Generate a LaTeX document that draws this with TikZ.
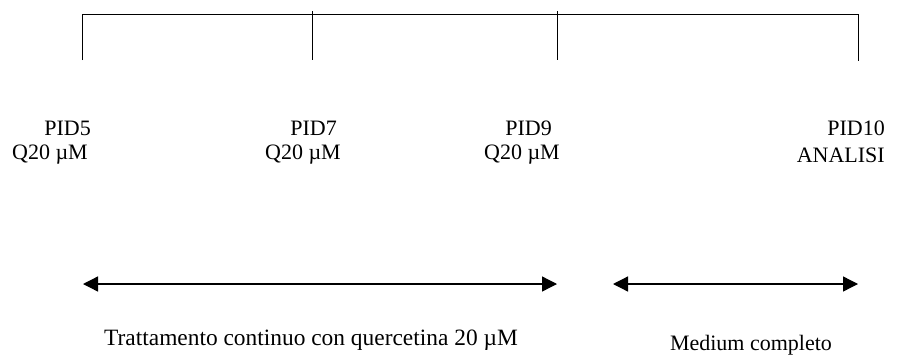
\documentclass[tikz,border=0pt]{standalone}
\usepackage{fontspec}
\setmainfont{Liberation Serif}
\usetikzlibrary{arrows.meta}

\begin{document}
\begin{tikzpicture}[
x=1pt, y=-1pt,
lbl/.style={inner sep=0pt, anchor=east, font=\fontsize{22}{26}\selectfont},
note/.style={inner sep=0pt, font=\fontsize{22}{26}\selectfont},
span/.style={{Triangle[length=15pt, width=15pt]}-{Triangle[length=15pt, width=15pt]}, line width=1.3pt}
]
\useasboundingbox (0,0) rectangle (901,356);

% timeline
\coordinate (t5) at (82,14);
\coordinate (t7) at (312,11);
\coordinate (t9) at (557,11);
\coordinate (t10) at (858,14);
\coordinate (b5) at (82,60);
\coordinate (b7) at (312,60);
\coordinate (b9) at (557,60);
\coordinate (b10) at (858,61);

\draw[line width=1pt] (b5) -- (t5) -- (t10) -- (b10);
\draw[line width=1pt] (t7) -- (b7);
\draw[line width=1pt] (t9) -- (b9);

% days
\node[lbl] (pid5) at (91,128) {PID5};
\node[lbl] (q5) at (88,155) {Q20 µM};
\node[lbl] (pid7) at (337,128) {PID7};
\node[lbl] (q7) at (341,155) {Q20 µM};
\node[lbl] (pid9) at (552,128) {PID9};
\node[lbl] (q9) at (560,155) {Q20 µM};
\node[lbl] (pid10) at (885,128) {PID10};
\node[lbl] (an10) at (885,155) {ANALISI};

% treatment periods
\coordinate (s1) at (83,284);
\coordinate (e1) at (557,284);
\coordinate (s2) at (613,284);
\coordinate (e2) at (858,284);
\draw[span] (s1) -- (e1);
\draw[span] (s2) -- (e2);

\node[note, font=\fontsize{23.4}{28}\selectfont] (trat) at (311,340) {Trattamento continuo con quercetina 20 µM};
\node[note] (med) at (751,345) {Medium completo};

\end{tikzpicture}
\end{document}
